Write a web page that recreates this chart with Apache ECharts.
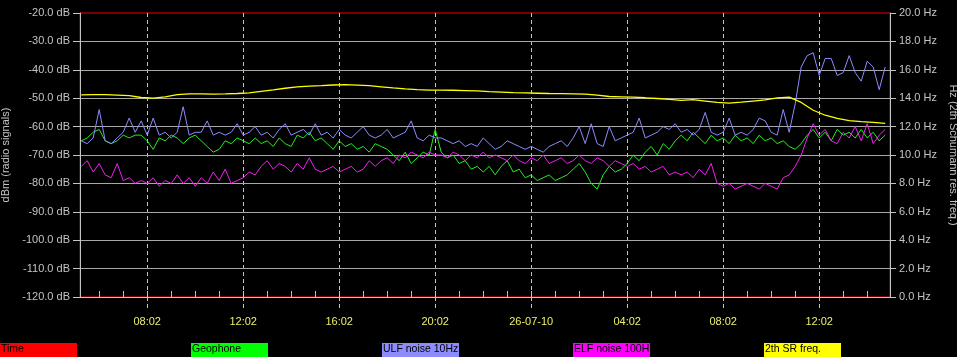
<!DOCTYPE html>
<html>
<head>
<meta charset="utf-8">
<script src="https://cdn.jsdelivr.net/npm/echarts@6/dist/echarts.min.js"></script>
<style>
    html, body { margin: 0; padding: 0; background: #000; }
    #chart { width: 957px; height: 357px; }
</style>
</head>
<body>
<div id="chart"></div>
<script>
// time in hours from 25-07-10 00:02, one sample every 15 min
var startHour = 5.25;
var stepHour = 0.25;

// ULF noise 10Hz (dB)
var ulfNoise = [
    -65, -66, -64, -54, -65, -66, -64, -62, -57, -62,
    -58, -63, -57, -63, -62, -64, -62, -53, -63, -62,
    -62, -58, -63, -62, -63, -62, -59, -63, -62, -60,
    -63, -62, -64, -61, -59, -63, -62, -61, -63, -59,
    -63, -62, -64, -61, -63, -64, -62, -60, -63, -64,
    -63, -61, -64, -63, -62, -58, -64, -65, -63, -64,
    -64, -65, -66, -65, -67, -66, -67, -64, -66, -68,
    -67, -65, -66, -67, -68, -67, -68, -69, -67, -66,
    -65, -67, -64, -60, -66, -59, -66, -67, -60, -65,
    -64, -63, -62, -57, -64, -63, -62, -60, -61, -59,
    -62, -61, -63, -61, -55, -62, -63, -62, -57, -63,
    -62, -63, -61, -57, -58, -62, -63, -54, -62, -52,
    -39, -35, -34, -42, -36, -36, -42, -41, -35, -41,
    -44, -37, -39, -47, -39
];

// Geophone (dB)
var geophone = [
    -65, -64, -62, -61, -65, -66, -65, -63, -64, -63,
    -63, -65, -68, -64, -65, -63, -64, -66, -64, -63,
    -65, -67, -69, -68, -65, -66, -64, -65, -66, -64,
    -66, -65, -67, -64, -66, -67, -63, -64, -62, -65,
    -64, -66, -68, -65, -67, -66, -68, -67, -69, -66,
    -67, -68, -70, -72, -69, -73, -71, -69, -70, -61,
    -69, -71, -70, -73, -72, -75, -74, -76, -74, -77,
    -74, -72, -76, -75, -78, -77, -79, -78, -77, -79,
    -78, -77, -75, -73, -76, -80, -82, -77, -74, -76,
    -75, -73, -70, -72, -69, -67, -70, -66, -68, -65,
    -63, -65, -62, -64, -66, -63, -65, -64, -66, -63,
    -65, -64, -66, -63, -65, -64, -66, -65, -67, -68,
    -66, -63, -61, -64, -62, -65, -61, -63, -62, -64,
    -61, -64, -62, -65, -63
];

// ELF noise 100Hz (dB)
var elfNoise = [
    -74, -72, -76, -73, -77, -78, -73, -79, -78, -80,
    -79, -80, -78, -81, -79, -80, -77, -80, -78, -81,
    -78, -80, -76, -79, -75, -80, -79, -78, -76, -77,
    -74, -72, -75, -73, -74, -76, -73, -75, -71, -75,
    -76, -75, -74, -76, -75, -74, -76, -75, -72, -74,
    -72, -71, -73, -70, -71, -69, -70, -71, -69, -70,
    -70, -71, -69, -70, -72, -70, -71, -69, -71, -70,
    -71, -72, -70, -72, -73, -71, -72, -70, -73, -72,
    -71, -73, -72, -70, -72, -73, -71, -72, -74, -72,
    -73, -74, -73, -75, -74, -76, -75, -74, -77, -76,
    -77, -76, -78, -75, -77, -73, -80, -81, -80, -82,
    -81, -80, -81, -82, -80, -81, -82, -78, -77, -74,
    -70, -64, -59, -63, -61, -65, -66, -62, -64, -60,
    -65, -59, -66, -63, -61
];

// 2th Schumann resonance frequency (Hz), one sample every 30 min
var srStep = 0.5;
var srFreq = [
    14.23, 14.25, 14.25, 14.22, 14.18, 14.05, 14.00, 14.10, 14.25, 14.30,
    14.30, 14.28, 14.30, 14.33, 14.38, 14.48, 14.58, 14.70, 14.80, 14.85,
    14.88, 14.93, 14.95, 14.92, 14.88, 14.80, 14.72, 14.65, 14.60, 14.57,
    14.57, 14.56, 14.54, 14.52, 14.47, 14.43, 14.39, 14.37, 14.35, 14.33,
    14.32, 14.30, 14.28, 14.22, 14.12, 14.10, 14.07, 14.03, 13.98, 13.92,
    13.84, 13.90, 13.80, 13.70, 13.66, 13.72, 13.80, 13.88, 14.02, 14.08,
    13.70, 13.15, 12.80, 12.58, 12.42, 12.35, 12.30, 12.23
];

// axis ticks
var hourTicks = [];
for (var h = 6; h <= 38; h++) { hourTicks.push(h); }
var labelTicks = [8, 12, 16, 20, 24, 28, 32, 36];

var legendItems = [
    { name: 'Time', color: '#ff0000' },
    { name: 'Geophone', color: '#00ff00' },
    { name: 'ULF noise 10Hz', color: '#8c8cff' },
    { name: 'ELF noise 100Hz', color: '#ff00ff' },
    { name: '2th SR freq.', color: '#ffff00' }
];

function pairs(values, step) {
    var out = [];
    for (var i = 0; i < values.length; i++) {
        out.push([startHour + i * step, values[i]]);
    }
    return out;
}

function hourLabel(v) {
    if (v === 24) return '26-07-10';
    var hh = v % 24;
    return (hh < 10 ? '0' : '') + hh + ':02';
}

var fontName = 'Liberation Sans';
var gray = '#c4c4c4';
var gridGray = '#a8a8a8';

var myChart = echarts.init(document.getElementById('chart'));

// legend boxes along the bottom
var graphics = [];
for (var i = 0; i < legendItems.length; i++) {
    graphics.push({
        type: 'group',
        left: i * 191,
        top: 343,
        children: [
            { type: 'rect', shape: { x: 0, y: 0, width: 77, height: 14 }, style: { fill: legendItems[i].color } },
            {
                type: 'text', x: 1, y: 1,
                style: {
                    text: legendItems[i].name, fill: '#000', font: '10.5px "' + fontName + '"',
                    width: 78, overflow: 'truncate', ellipsis: ''
                }
            }
        ]
    });
}

var xRange = { type: 'value', min: 5.2, max: 38.95 };

var option = {
    backgroundColor: '#000',
    animation: false,
    textStyle: { fontFamily: fontName },
    grid: {
        left: 80, right: 67, top: 13, bottom: 60, outerBoundsMode: 'none', containLabel: false,
        // top edge of the plot is the red "Time" line; the other edges are covered by the axis lines
        show: true, borderColor: '#ee0000', borderWidth: 1, backgroundColor: 'transparent'
    },
    graphic: graphics,
    xAxis: [
        echarts.util.merge({
            position: 'bottom',
            z: 1,
            axisLine: { lineStyle: { color: gray, width: 1 } },
            axisTick: { customValues: hourTicks, inside: true, length: 6, lineStyle: { color: gray } },
            axisLabel: { show: false },
            splitLine: { show: false }
        }, xRange),
        echarts.util.merge({
            position: 'bottom',
            axisLine: { show: false },
            axisTick: { customValues: labelTicks, length: 14, lineStyle: { color: gray, type: [4, 3] } },
            axisLabel: {
                customValues: labelTicks, color: '#eeee66', fontSize: 11, margin: 19,
                formatter: hourLabel
            },
            splitLine: { show: true, lineStyle: { color: gray, type: [4, 3] } }
        }, xRange)
    ],
    yAxis: [
        {
            type: 'value',
            z: 1,
            min: -120,
            max: -20,
            interval: 10,
            name: 'dBm (radio signals)',
            nameLocation: 'middle',
            nameGap: 64,
            nameTextStyle: { color: gray, fontSize: 11 },
            axisLine: { show: true, lineStyle: { color: gray } },
            axisTick: { show: true, length: 7, lineStyle: { color: gray } },
            axisLabel: {
                color: gray, fontSize: 11, margin: 10,
                formatter: function (v) { return v.toFixed(1) + ' dB'; }
            },
            splitLine: { show: true, showMinLine: false, showMaxLine: false, lineStyle: { color: gridGray } }
        },
        {
            type: 'value',
            z: 1,
            position: 'right',
            min: 0,
            max: 20,
            interval: 2,
            name: 'Hz (2th Schumann res. freq.)',
            nameLocation: 'middle',
            nameGap: 51,
            nameRotate: -90,
            nameTextStyle: { color: gray, fontSize: 11 },
            axisLine: { show: true, lineStyle: { color: gray } },
            axisTick: { show: true, length: 6, lineStyle: { color: gray } },
            axisLabel: {
                color: gray, fontSize: 11, margin: 9,
                formatter: function (v) { return v.toFixed(1) + ' Hz'; }
            },
            splitLine: { show: false }
        }
    ],
    series: [
        {
            name: 'Geophone', type: 'line', showSymbol: false,
            lineStyle: { color: '#22ee22', width: 1 },
            data: pairs(geophone, stepHour)
        },
        {
            name: 'ULF noise 10Hz', type: 'line', showSymbol: false,
            lineStyle: { color: '#8c8cff', width: 1 },
            data: pairs(ulfNoise, stepHour)
        },
        {
            name: 'ELF noise 100Hz', type: 'line', showSymbol: false,
            lineStyle: { color: '#ee22ee', width: 1 },
            data: pairs(elfNoise, stepHour)
        },
        {
            name: '2th SR freq.', type: 'line', showSymbol: false, yAxisIndex: 1,
            lineStyle: { color: '#ffff00', width: 1.3 },
            data: pairs(srFreq, srStep)
        }
    ]
};
myChart.setOption(option);
</script>
</body>
</html>
